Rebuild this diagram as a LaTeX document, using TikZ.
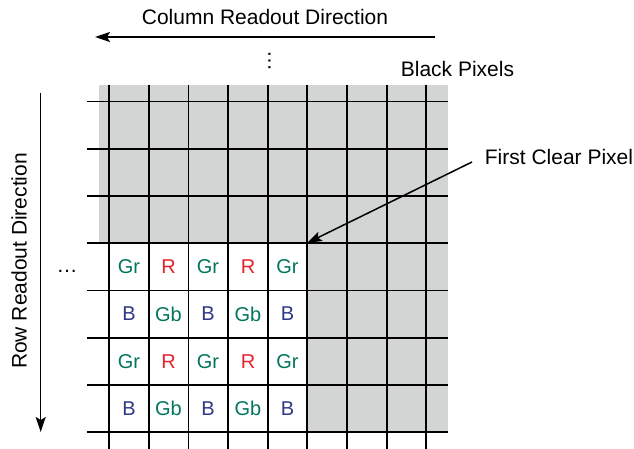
\documentclass[tikz,border=0pt]{standalone}
\usepackage{fontspec}
\setmainfont{Liberation Sans}
\usetikzlibrary{arrows.meta}
\definecolor{grgreen}{RGB}{0,118,92}
\definecolor{rred}{RGB}{232,32,46}
\definecolor{bblue}{RGB}{46,56,136}
\definecolor{pixgray}{RGB}{211,212,212}
\begin{document}
\begin{tikzpicture}[x=1pt,y=-1pt,
  lbl/.style={font=\fontsize{21}{25}\selectfont, inner sep=0pt},
  cell/.style={font=\fontsize{20}{24}\selectfont, inner sep=0pt},
  gridline/.style={line width=1.8pt, black},
  arr/.style={line width=1.5pt, black, -{Stealth[length=15pt,width=10pt,inset=3pt]}}]
\useasboundingbox (0,0) rectangle (634,449);
% shaded black-pixel region
\fill[pixgray] (99,85) rectangle (448,432);
\fill[white] (99,243) rectangle (307,432);
% grid
\foreach \y in {101.5,149,196,243,290.5,338,385,432}
  \draw[gridline] (87,\y) -- (448,\y);
\foreach \x in {109,149,188.5,228,268,307,347,387,426}
  \draw[gridline] (\x,85) -- (\x,449);
% cell labels
\foreach \c/\x in {1/129,2/168.5,3/208,4/248,5/287.5}{
  \pgfmathsetmacro{\odd}{mod(\c,2)}
  \ifdim\odd pt>0.5pt
    \node[cell, text=grgreen] (a\c) at (\x,266.5) {Gr};
    \node[cell, text=bblue]   (b\c) at (\x,314) {B};
    \node[cell, text=grgreen] (c\c) at (\x,361.5) {Gr};
    \node[cell, text=bblue]   (d\c) at (\x,408.5) {B};
  \else
    \node[cell, text=rred]    (a\c) at (\x,266.5) {R};
    \node[cell, text=grgreen] (b\c) at (\x,314) {Gb};
    \node[cell, text=rred]    (c\c) at (\x,361.5) {R};
    \node[cell, text=grgreen] (d\c) at (\x,408.5) {Gb};
  \fi
}
% texts
\node[lbl] (coltxt) at (265,17) {Column Readout Direction};
\node[lbl] (black) at (457.5,68.5) {Black Pixels};
\node[lbl] (fcp) at (559,156.5) {First Clear Pixel};
\node[lbl, rotate=90] (rowtxt) at (19,261) {Row Readout Direction};
\node[lbl, anchor=base] (hdots) at (67,272) {…};
\node[lbl, anchor=base, rotate=90] (vdots) at (270.5,61) {…};
% arrows
\coordinate (colS) at (435,37);
\coordinate (colE) at (95,37);
\coordinate (rowS) at (40.7,93);
\coordinate (rowE) at (40.7,432);
\coordinate (fcpS) at (472,162);
\coordinate (fcpE) at (307,243);
\draw[arr] (colS) -- (colE);
\draw[arr] (rowS) -- (rowE);
\draw[arr] (fcpS) -- (fcpE);
\end{tikzpicture}
\end{document}
